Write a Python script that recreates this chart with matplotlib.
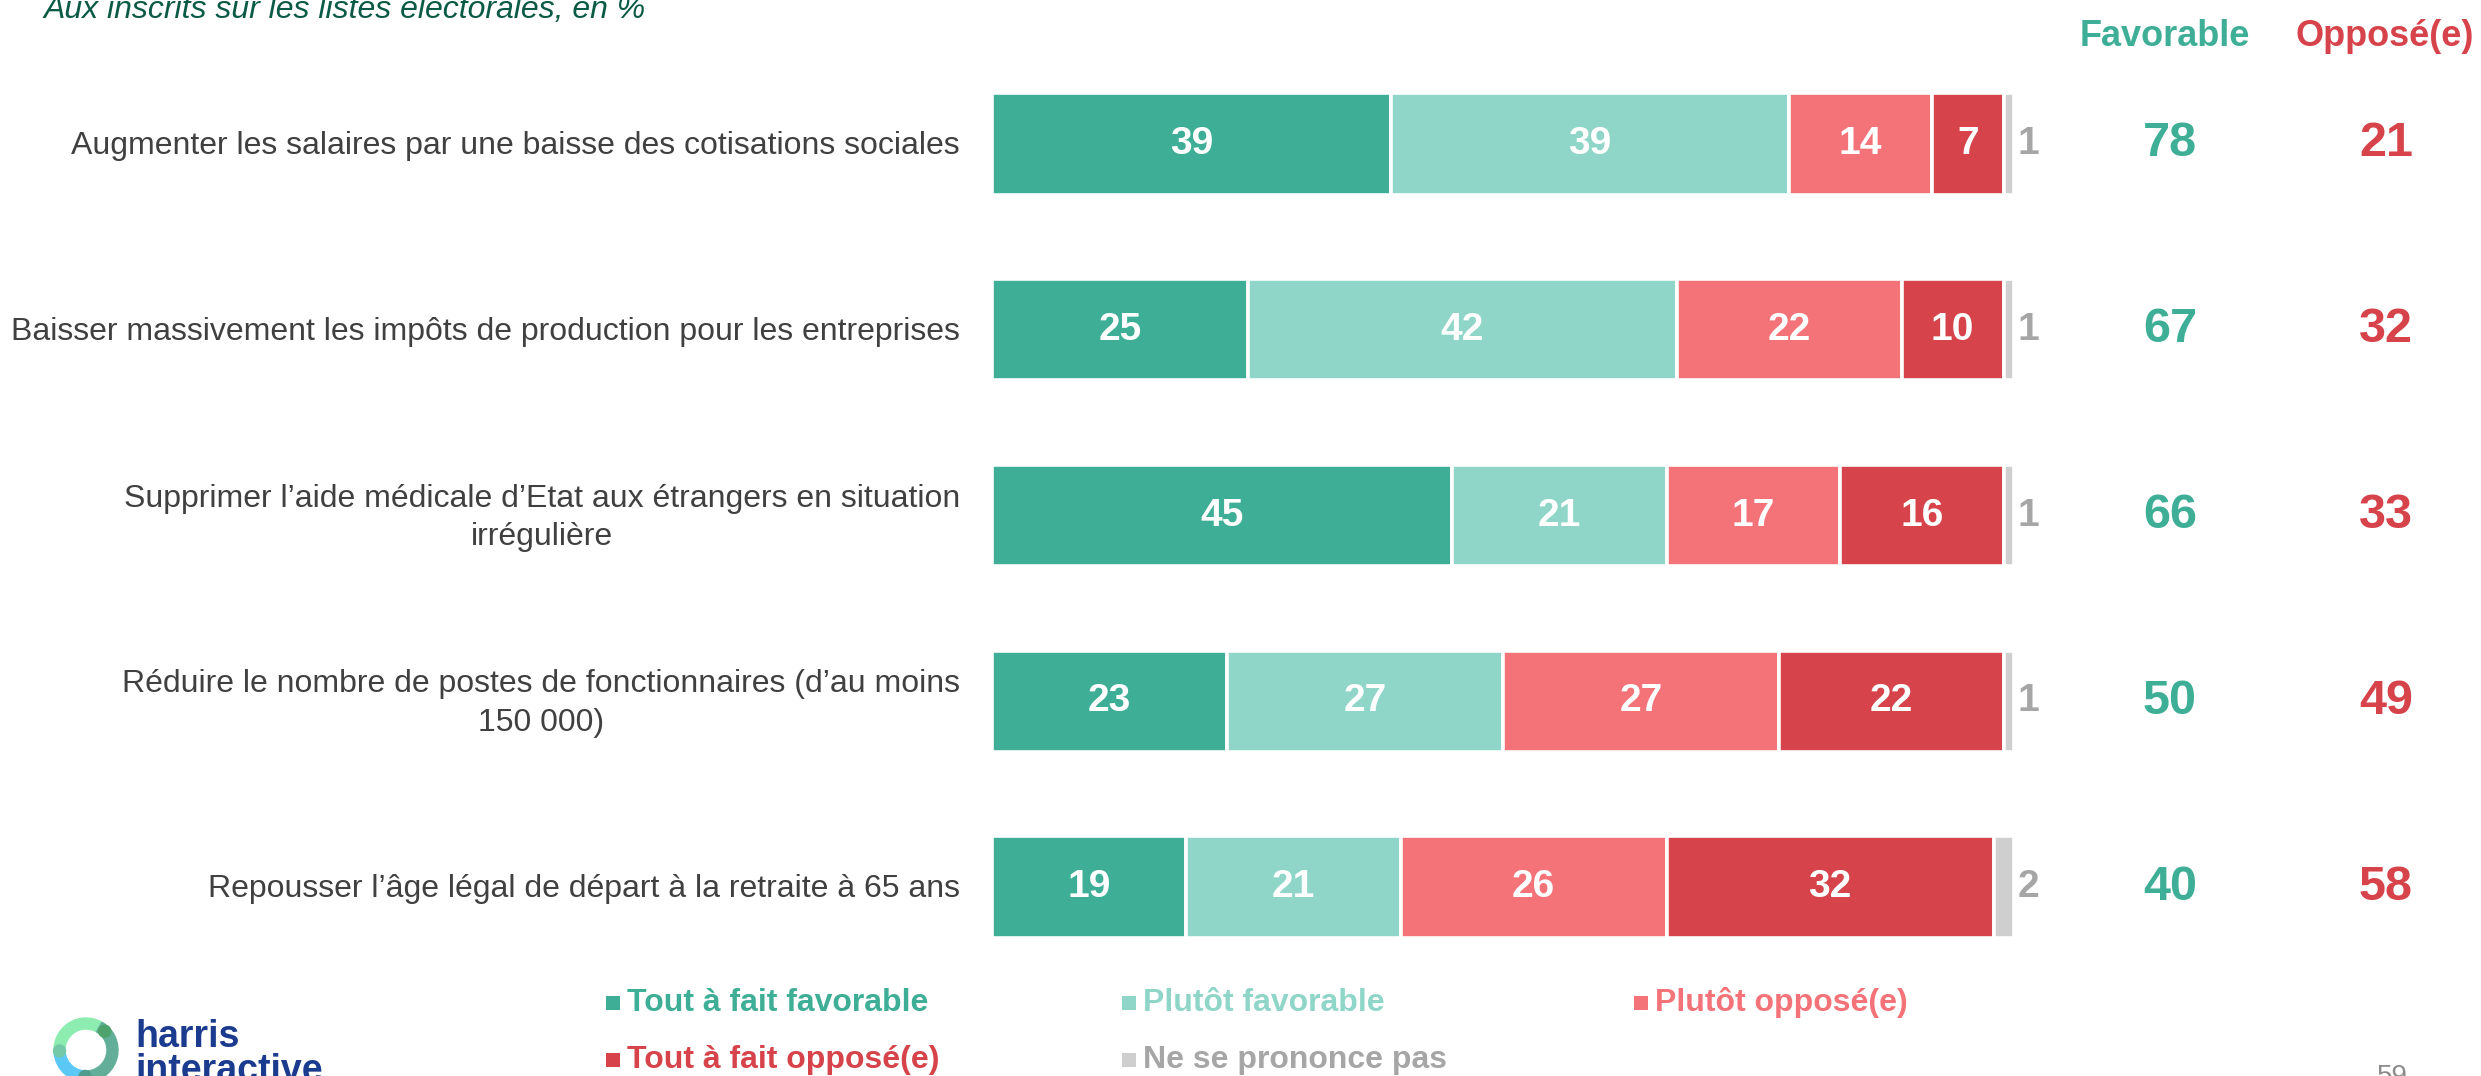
import math
import matplotlib
matplotlib.use("Agg")
import matplotlib.pyplot as plt
from matplotlib.patches import Wedge, Circle

plt.rcParams['font.family'] = ['Liberation Sans', 'DejaVu Sans']

# ---------------- data ----------------
categories = [
    "Augmenter les salaires par une baisse des cotisations sociales",
    "Baisser massivement les impôts de production pour les entreprises",
    "Supprimer l\u2019aide médicale d\u2019Etat aux étrangers en situation\nirrégulière",
    "Réduire le nombre de postes de fonctionnaires (d\u2019au moins\n150 000)",
    "Repousser l\u2019âge légal de départ à la retraite à 65 ans",
]
series_names = ["Tout à fait favorable", "Plutôt favorable", "Plutôt opposé(e)",
                "Tout à fait opposé(e)", "Ne se prononce pas"]
tout_favorable = [39, 25, 45, 23, 19]
plutot_favorable = [39, 42, 21, 27, 21]
plutot_oppose = [14, 22, 17, 27, 26]
tout_oppose = [7, 10, 16, 22, 32]
nsp = [1, 1, 1, 1, 2]
total_favorable = [78, 67, 66, 50, 40]
total_oppose = [21, 32, 33, 49, 58]
subtitle = "Aux inscrits sur les listes électorales, en %"
page_number = "59"

# ---------------- style ----------------
c_dg = "#3EAF96"
c_lg = "#8FD6C8"
c_lr = "#F47378"
c_dr = "#D6434A"
c_gy = "#D0CFCF"
c_gytxt = "#A6A6A6"
c_txt = "#404040"
colors = [c_dg, c_lg, c_lr, c_dr, c_gy]

W, H = 2481, 1076
fig = plt.figure(figsize=(W / 100, H / 100), dpi=100)
ax = fig.add_axes([0, 0, 1, 1])

# pixel mapping: x=0 -> 992px, 1 unit = 10.22px ; row 0 -> 144px, row step 185.75px
x0_px, ux = 992.0, 10.22
y0_px, uy = 144.0, 185.75
ax.set_xlim(-x0_px / ux, (W - x0_px) / ux)
ax.set_ylim((H - y0_px) / uy, -y0_px / uy)
ax.axis("off")

def px_y(p):
    return (p - y0_px) / uy

def px_x(p):
    return (p - x0_px) / ux

rows = list(range(len(categories)))
all_series = [tout_favorable, plutot_favorable, plutot_oppose, tout_oppose, nsp]
left = [0] * len(rows)
bar_h = 0.545
for si, vals in enumerate(all_series):
    ax.barh(rows, vals, left=left, height=bar_h, color=colors[si],
            edgecolor="white", linewidth=2.6)
    for r in rows:
        if si < 4:
            ax.text(left[r] + vals[r] / 2, r, str(vals[r]), ha="center", va="center",
                    color="white", fontsize=28, fontweight="bold")
    left = [l + v for l, v in zip(left, vals)]

for r in rows:
    ax.text(101.4, r, str(nsp[r]), ha="center", va="center",
            color=c_gytxt, fontsize=28, fontweight="bold")
    ax.text(px_x(2170), r, str(total_favorable[r]), ha="center", va="center",
            color=c_dg, fontsize=35, fontweight="bold")
    ax.text(px_x(2386), r, str(total_oppose[r]), ha="center", va="center",
            color=c_dr, fontsize=35, fontweight="bold")
    ax.text(px_x(960), r + 0.012, categories[r], ha="right", va="center",
            multialignment="center", color=c_txt, fontsize=23, linespacing=1.35)

# column headers
ax.text(px_x(2165), px_y(36), "Favorable", ha="center", va="center",
        color=c_dg, fontsize=26, fontweight="bold")
ax.text(px_x(2385), px_y(36), "Opposé(e)", ha="center", va="center",
        color=c_dr, fontsize=26, fontweight="bold")

# subtitle (cut at top)
ax.text(px_x(44), px_y(18), subtitle, ha="left", va="baseline",
        color="#0B5A45", fontsize=23, style="italic")

# legend (manual)
leg_pos = [(606, 1003), (1122, 1003), (1634, 1003), (606, 1060), (1122, 1060)]
leg_txt_colors = [c_dg, c_lg, c_lr, c_dr, c_gytxt]
for i, name in enumerate(series_names):
    lx, ly = leg_pos[i]
    ax.scatter([px_x(lx + 7)], [px_y(ly)], marker="s", s=110, color=colors[i],
               linewidths=0, clip_on=False)
    ax.text(px_x(lx + 21), px_y(ly), name, ha="left", va="center",
            color=leg_txt_colors[i], fontsize=23, fontweight="bold")

# page number
ax.text(px_x(2392), px_y(1064), page_number, ha="center", va="top",
        color="#8C8C8C", fontsize=20)

# logo
lax = fig.add_axes([0, 0, 300 / W, 110 / H])
lax.set_xlim(0, 300)
lax.set_ylim(0, 110)
lax.set_aspect("equal")
lax.axis("off")
cx, cy = 86, 1076 - 1050
ro, wd = 32, 11
lax.add_patch(Wedge((cx, cy), ro, 60, 185, width=wd, color="#8DEDB0"))
lax.add_patch(Wedge((cx, cy), ro, 185, 275, width=wd, color="#5BC8F5"))
lax.add_patch(Wedge((cx, cy), ro, 275, 420, width=wd, color="#62AE98"))
for ang, col in [(45, "#4EA36C"), (182, "#74C9A8"), (268, "#4E9C8C")]:
    rr = ro - wd / 2
    lax.add_patch(Circle((cx + rr * math.cos(math.radians(ang)),
                          cy + rr * math.sin(math.radians(ang))), 6, color=col))
lax.text(135, 1076 - 1047, "harris", ha="left", va="baseline", color="#1B3B8E",
         fontsize=27, fontweight="bold")
lax.text(135, 1076 - 1081, "interactive", ha="left", va="baseline", color="#1B3B8E",
         fontsize=27, fontweight="bold", clip_on=False)

fig.savefig("out.png", dpi=100)
